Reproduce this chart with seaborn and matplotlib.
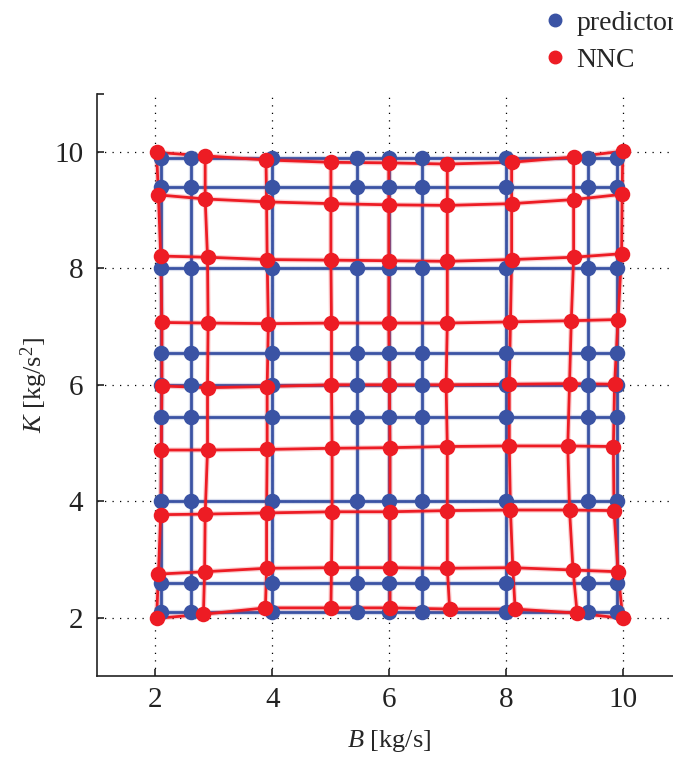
import numpy as np
import pandas as pd
import seaborn as sns
import matplotlib.pyplot as plt
from matplotlib.lines import Line2D

# predictor grid (regular): B and K levels
pred_B = [2.1, 2.6, 4.0, 5.45, 6.0, 6.55, 8.0, 9.4, 9.9]
pred_K = [2.1, 2.6, 4.0, 5.45, 6.0, 6.55, 8.0, 9.4, 9.9]

# NNC grid, one list per row (top row first)
nnc_B = [
    [2.02, 2.85, 3.89, 5.00, 5.99, 6.99, 8.09, 9.15, 9.99],
    [2.05, 2.85, 3.90, 5.00, 5.99, 6.99, 8.09, 9.15, 9.98],
    [2.09, 2.89, 3.91, 5.00, 5.99, 6.99, 8.09, 9.15, 9.97],
    [2.11, 2.90, 3.93, 5.01, 5.99, 6.99, 8.07, 9.11, 9.91],
    [2.11, 2.89, 3.91, 5.01, 6.00, 6.97, 8.05, 9.08, 9.85],
    [2.10, 2.89, 3.91, 5.02, 6.01, 6.99, 8.05, 9.05, 9.83],
    [2.09, 2.85, 3.90, 5.02, 6.01, 6.99, 8.07, 9.08, 9.84],
    [2.05, 2.84, 3.90, 5.01, 6.01, 6.99, 8.11, 9.14, 9.91],
    [2.02, 2.82, 3.88, 5.00, 6.01, 7.03, 8.15, 9.21, 9.99],
]
nnc_K = [
    [9.99, 9.93, 9.86, 9.82, 9.81, 9.79, 9.82, 9.91, 10.01],
    [9.26, 9.19, 9.14, 9.11, 9.09, 9.08, 9.11, 9.18, 9.27],
    [8.21, 8.19, 8.15, 8.14, 8.13, 8.12, 8.15, 8.19, 8.25],
    [7.07, 7.06, 7.05, 7.06, 7.06, 7.06, 7.08, 7.10, 7.12],
    [5.98, 5.95, 5.97, 6.00, 6.00, 6.00, 6.01, 6.02, 6.01],
    [4.88, 4.88, 4.89, 4.91, 4.92, 4.94, 4.95, 4.95, 4.94],
    [3.77, 3.78, 3.80, 3.82, 3.82, 3.84, 3.85, 3.85, 3.84],
    [2.75, 2.79, 2.85, 2.86, 2.86, 2.85, 2.86, 2.82, 2.79],
    [1.99, 2.06, 2.17, 2.17, 2.17, 2.15, 2.15, 2.08, 1.99],
]

BLUE = "#3A53A4"
RED = "#ED1C24"


def grid_frame(B, K):
    rows = []
    for i in range(len(B)):
        for j in range(len(B[i])):
            rows.append({"B": B[i][j], "K": K[i][j], "row": i, "col": j})
    return pd.DataFrame(rows)


pB, pK = np.meshgrid(pred_B, pred_K[::-1])
df_pred = grid_frame(pB.tolist(), pK.tolist())
df_nnc = grid_frame(nnc_B, nnc_K)

sns.set_style("ticks")
plt.rcParams['font.family'] = ['Liberation Serif', 'DejaVu Serif']
plt.rcParams['mathtext.fontset'] = 'custom'
plt.rcParams['mathtext.rm'] = 'Liberation Serif'
plt.rcParams['mathtext.it'] = 'Liberation Serif:italic'

fig = plt.figure(figsize=(6.73, 7.6), dpi=100)
ax = fig.add_axes([0.1441, 0.1105, 0.869, 0.7664])

lw = 2.0
ms = 125
for df, c in [(df_pred, BLUE), (df_nnc, RED)]:
    # soft halo under the lines, like the anti-aliased original
    for width, alpha in [(lw + 1.8, 0.2), (lw, 1.0)]:
        sns.lineplot(data=df.sort_values(["row", "col"]), x="B", y="K", units="row",
                     estimator=None, sort=False, color=c, lw=width, alpha=alpha,
                     ax=ax, legend=False)
        sns.lineplot(data=df.sort_values(["col", "row"]), x="B", y="K", units="col",
                     estimator=None, sort=False, color=c, lw=width, alpha=alpha,
                     ax=ax, legend=False)
    sns.scatterplot(data=df, x="B", y="K", color=c, s=ms, linewidth=0,
                    ax=ax, legend=False, zorder=3)

ax.set_xlim(1, 11)
ax.set_ylim(1, 11)
ax.set_xticks([2, 4, 6, 8, 10])
ax.set_yticks([2, 4, 6, 8, 10])
ax.set_yticks([11], minor=True)
ax.grid(True, which="major", color="k", linestyle=(0, (1, 5)), linewidth=0.9)
ax.set_axisbelow(True)
sns.despine(ax=ax)
for s in ["left", "bottom"]:
    ax.spines[s].set_linewidth(1.2)
    ax.spines[s].set_color("#222222")
ax.tick_params(axis="both", which="both", direction="in", length=5, width=1.2,
               labelsize=21, colors="#222222")
ax.tick_params(axis="x", pad=8)
ax.tick_params(axis="y", pad=10)

ax.set_xlabel(r"$B$ [kg/s]", fontsize=19, labelpad=11)
ax.set_ylabel(r"$K$ [kg/s$^2$]", fontsize=19, labelpad=3)

handles = [
    Line2D([], [], marker="o", color=BLUE, linestyle="none", markersize=9),
    Line2D([], [], marker="o", color=RED, linestyle="none", markersize=9),
]
fig.legend(handles, ["predictor", "NNC"], loc="upper left",
           bbox_to_anchor=(0.78, 1.008), frameon=False, fontsize=20,
           handlelength=1.0, handletextpad=0.25, labelspacing=0.42,
           borderaxespad=0.2)

fig.savefig("out.png", dpi=100)
